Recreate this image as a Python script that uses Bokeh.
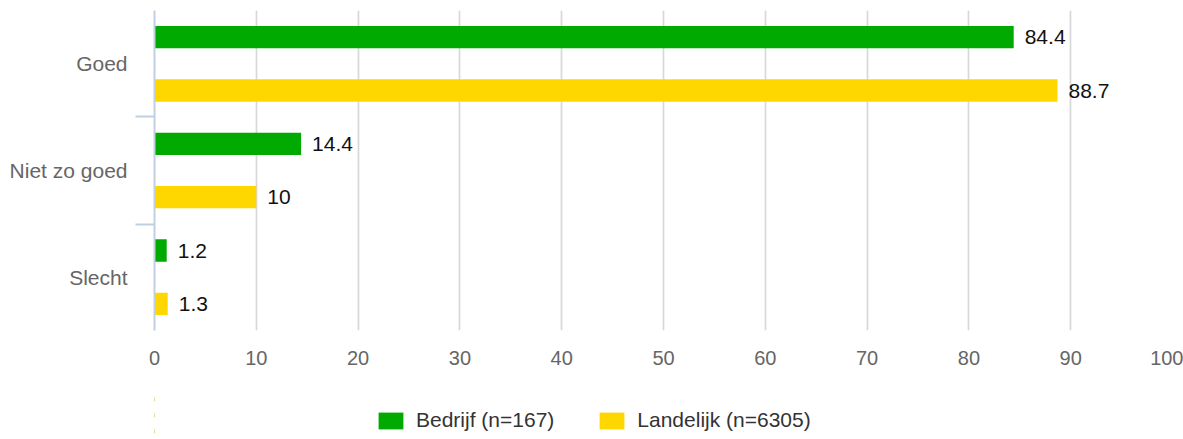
from bokeh.plotting import figure
from bokeh.layouts import column
from bokeh.models import (ColumnDataSource, FactorRange, Range1d, LinearAxis, CategoricalAxis,
                          FixedTicker, Legend, LegendItem)
from bokeh.core.properties import value
from bokeh.transform import dodge
from bokeh.embed import file_html
from bokeh.resources import INLINE

categories = ["Goed", "Niet zo goed", "Slecht"]
bedrijf = [84.4, 14.4, 1.2]
landelijk = [88.7, 10, 1.3]
series_names = ["Bedrijf (n=167)", "Landelijk (n=6305)"]
x_ticks = [0, 10, 20, 30, 40, 50, 60, 70, 80, 90, 100]

GREEN = "#00AA00"
YELLOW = "#FFD700"
FONT = "Liberation Sans"

src = ColumnDataSource(dict(
    cat=categories,
    bedrijf=bedrijf,
    landelijk=landelijk,
    lab_b=[f"{v:g}" for v in bedrijf],
    lab_l=[f"{v:g}" for v in landelijk],
))

p = figure(width=1183, height=391, output_backend="svg", toolbar_location=None,
           y_range=FactorRange(factors=list(reversed(categories))),
           x_range=Range1d(0, 100),
           y_axis_location=None, x_axis_location=None,
           min_border_left=154, min_border_right=11, min_border_top=10, min_border_bottom=61)
p.outline_line_color = None
p.background_fill_color = "white"
p.border_fill_color = "white"
# boundaries between categories: one factor per boundary, shifted half a category
bound_factors = [f"b{i}" for i in range(len(categories) + 1)]
p.extra_y_ranges = {"bounds": FactorRange(factors=bound_factors, range_padding=-0.51,
                                          range_padding_units="absolute")}

# grid
p.ygrid.visible = False
p.xgrid.ticker = FixedTicker(ticks=x_ticks)
p.xgrid.grid_line_color = "#d8d8d8"
p.xgrid.grid_line_width = 1.7

# bars
hb = p.hbar(y=dodge("cat", 0.25, range=p.y_range), right="bedrijf", left=0, height=0.21,
            source=src, fill_color=GREEN, line_color=None)
hl = p.hbar(y=dodge("cat", -0.25, range=p.y_range), right="landelijk", left=0, height=0.21,
            source=src, fill_color=YELLOW, line_color=None)

# data labels
p.text(x="bedrijf", y=dodge("cat", 0.25, range=p.y_range), text="lab_b", source=src,
       x_offset=11, text_baseline="middle", text_align="left",
       text_font=value(FONT), text_font_size="21px", text_color="#111111")
p.text(x="landelijk", y=dodge("cat", -0.25, range=p.y_range), text="lab_l", source=src,
       x_offset=11, text_baseline="middle", text_align="left",
       text_font=value(FONT), text_font_size="21px", text_color="#111111")

# category boundary ticks axis (innermost)
bax = CategoricalAxis(y_range_name="bounds")
bax.axis_line_color = "#c0d0e0"
bax.axis_line_width = 2
bax.major_tick_line_color = "#c0d0e0"
bax.major_tick_line_width = 2
bax.major_tick_out = 19
bax.major_tick_in = 0
bax.minor_tick_line_color = None
bax.major_label_text_font_size = "1px"
bax.major_label_text_alpha = 0
bax.major_label_standoff = 0
p.add_layout(bax, "left")

# category labels axis
cax = CategoricalAxis()
cax.axis_line_color = None
cax.major_tick_line_color = None
cax.minor_tick_line_color = None
cax.major_tick_out = 0
cax.major_tick_in = 0
cax.major_label_standoff = 8
cax.major_label_text_font = FONT
cax.major_label_text_font_size = "21px"
cax.major_label_text_color = "#666666"
p.add_layout(cax, "left")

# value axis
xax = LinearAxis(ticker=FixedTicker(ticks=x_ticks))
xax.axis_line_color = None
xax.major_tick_line_color = None
xax.minor_tick_line_color = None
xax.major_tick_out = 0
xax.major_tick_in = 0
xax.major_label_standoff = 20
xax.major_label_text_font = FONT
xax.major_label_text_font_size = "20px"
xax.major_label_text_color = "#666666"
p.add_layout(xax, "below")

# legend strip below the chart (sample renderers lie outside its visible range)
p2 = figure(width=1183, height=48, output_backend="svg", toolbar_location=None,
            x_range=Range1d(200, 300), y_range=FactorRange(factors=list(reversed(categories))),
            x_axis_location=None, y_axis_location=None,
            min_border_left=154, min_border_right=11, min_border_top=0, min_border_bottom=0)
p2.outline_line_color = None
p2.xgrid.visible = False
p2.ygrid.visible = False
lb = p2.hbar(y="cat", right="bedrijf", left=0, height=0.21, source=src,
             fill_color=GREEN, line_color=None)
ll = p2.hbar(y="cat", right="landelijk", left=0, height=0.21, source=src,
             fill_color=YELLOW, line_color=None)

legend = Legend(items=[LegendItem(label=series_names[0], renderers=[lb]),
                       LegendItem(label=series_names[1], renderers=[ll])],
                orientation="horizontal", location=(221, 7))
legend.glyph_width = 31
legend.glyph_height = 21
legend.label_standoff = 10
legend.spacing = 42
legend.padding = 0
legend.margin = 0
legend.border_line_color = None
legend.background_fill_alpha = 0
legend.label_text_font = FONT
legend.label_text_font_size = "21px"
legend.label_text_color = "#333333"
p2.add_layout(legend, "center")

layout = column(p, p2, spacing=0)
open("out.html", "w").write(file_html(layout, INLINE))
